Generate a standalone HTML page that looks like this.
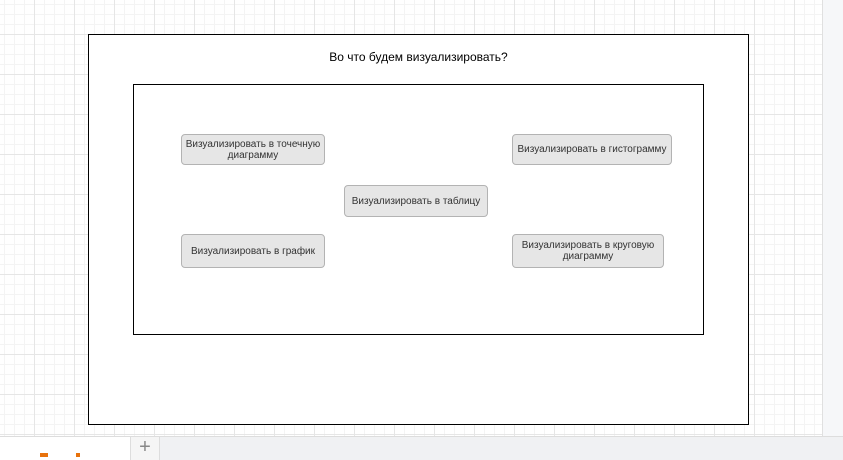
<!DOCTYPE html>
<html><head><meta charset="utf-8"><style>
body{margin:0;width:843px;height:460px;overflow:hidden;position:relative;font-family:"Liberation Sans",sans-serif;
background-color:#fff;
background-image:linear-gradient(#e6e6e6 1px,transparent 1px),linear-gradient(90deg,#e6e6e6 1px,transparent 1px),linear-gradient(#f4f4f4 1px,transparent 1px),linear-gradient(90deg,#f4f4f4 1px,transparent 1px);
background-size:40px 40px,40px 40px,10px 10px,10px 10px;background-position:-6px -6px;}
.r{position:absolute;box-sizing:border-box}
.b{position:absolute;box-sizing:border-box;background:#e6e6e6;border:1px solid #b3b3b3;border-radius:4px;font-size:10px;color:#333;display:flex;align-items:center;justify-content:center;text-align:center;line-height:11px}
</style></head><body>
<div class="r" style="left:822px;top:0;width:21px;height:436px;background:#f6f7f9;border-left:1px solid #e0e0e0"></div>
<div class="r" style="left:88px;top:34px;width:661px;height:391px;background:#fff;border:1px solid #000"></div>
<div class="r" style="left:88px;top:50px;width:661px;text-align:center;font-size:12px;color:#000">Во что будем визуализировать?</div>
<div class="r" style="left:133px;top:84px;width:571px;height:251px;border:1px solid #000;background:#fff"></div>
<div class="b" style="left:181px;top:134px;width:144px;height:31px">Визуализировать в точечную<br>диаграмму</div>
<div class="b" style="left:512px;top:134px;width:160px;height:31px">Визуализировать в гистограмму</div>
<div class="b" style="left:344px;top:185px;width:144px;height:32px">Визуализировать в таблицу</div>
<div class="b" style="left:181px;top:234px;width:144px;height:34px">Визуализировать в график</div>
<div class="b" style="left:512px;top:234px;width:152px;height:34px">Визуализировать в круговую<br>диаграмму</div>
<div class="r" style="left:0;top:436px;width:843px;height:24px;background:#f0f1f3;border-top:1px solid #ddd"></div>
<div class="r" style="left:0;top:437px;width:130px;height:23px;background:#fff"></div>
<div class="r" style="left:130px;top:437px;width:30px;height:23px;background:#f5f5f5;border-left:1px solid #ddd;border-right:1px solid #ddd;color:#888;font-size:20px;line-height:20px;text-align:center">+</div>
<div class="r" style="left:40px;top:453px;width:8px;height:4px;background:#e8720c"></div>
<div class="r" style="left:76px;top:453px;width:4px;height:4px;background:#e8720c"></div>
</body></html>
